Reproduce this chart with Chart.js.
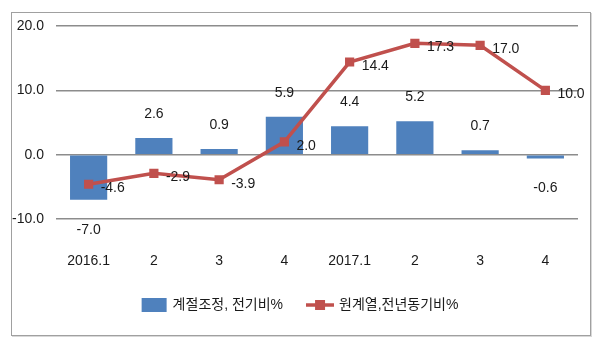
<!DOCTYPE html>
<html>
<head>
<meta charset="utf-8">
<script src="https://cdn.jsdelivr.net/npm/chart.js@4"></script>
<style>
  body { margin: 0; background: #fff; }
  #wrap { position: relative; width: 600px; height: 349px; }
  #frame { position: absolute; left: 11px; top: 12px; width: 578px; height: 322px; border: 1px solid #a0a0a0; box-shadow: 1px 1px 0 #d8d8d8; }
  #myChart { position: absolute; left: 0; top: 0; }
</style>
</head>
<body>
<div id="wrap">
  <div id="frame"></div>
  <canvas id="myChart" width="600" height="349"></canvas>
</div>
<script>
const quarters = ['2016.1', '2', '3', '4', '2017.1', '2', '3', '4'];
const seasonal = [-7.0, 2.6, 0.9, 5.9, 4.4, 5.2, 0.7, -0.6];   // 계절조정, 전기비%
const yearOnYear = [-4.6, -2.9, -3.9, 2.0, 14.4, 17.3, 17.0, 10.0]; // 원계열,전년동기비%
const yTicks = [-10, 0, 10, 20];

const barColor = '#4f81bd';
const lineColor = '#c0504d';
const textColor = '#1a1a1a';
const numFont = "'Liberation Sans', 'Noto Sans CJK KR', sans-serif";

// small canvases used as legend symbols
function legendIcon(kind) {
  const c = document.createElement('canvas');
  c.width = 28;
  c.height = 14;
  const g = c.getContext('2d');
  if (kind === 'bar') {
    g.fillStyle = barColor;
    g.fillRect(2, 0, 25, 14);
  } else {
    g.strokeStyle = lineColor;
    g.lineWidth = 3.5;
    g.beginPath();
    g.moveTo(0, 7);
    g.lineTo(28, 7);
    g.stroke();
    g.fillStyle = lineColor;
    g.fillRect(9, 2, 10, 10);
  }
  return c;
}

// value labels next to bars and points
const valueLabels = {
  id: 'valueLabels',
  afterDatasetsDraw(chart) {
    const ctx = chart.ctx;
    ctx.save();
    ctx.font = '14px ' + numFont;
    ctx.fillStyle = textColor;
    ctx.textBaseline = 'middle';

    const bars = chart.getDatasetMeta(0).data;
    ctx.textAlign = 'center';
    bars.forEach((el, i) => {
      const v = seasonal[i];
      const y = v >= 0 ? el.y - 24 : el.y + 30;
      ctx.fillText(v.toFixed(1), el.x, y);
    });

    const pts = chart.getDatasetMeta(1).data;
    ctx.textAlign = 'left';
    pts.forEach((el, i) => {
      ctx.fillText(yearOnYear[i].toFixed(1), el.x + 12, el.y + 4);
    });
    ctx.restore();
  }
};

// centre the legend on the page rather than on the padded box
const centerLegend = {
  id: 'centerLegend',
  beforeDraw(chart) {
    chart.legend.left = 22;
    chart.legend.right = 578;
  }
};

var ctx = document.getElementById('myChart');

var myChart = new Chart(ctx, {
  data: {
    labels: quarters,
    datasets: [
      {
        type: 'bar',
        label: '계절조정, 전기비%',
        data: seasonal,
        backgroundColor: barColor,
        categoryPercentage: 1,
        barPercentage: 0.57,
        order: 2
      },
      {
        type: 'line',
        label: '원계열,전년동기비%',
        data: yearOnYear,
        borderColor: lineColor,
        borderWidth: 3.5,
        pointStyle: 'rect',
        pointRadius: 6.5,
        pointBackgroundColor: lineColor,
        pointBorderWidth: 0,
        tension: 0,
        order: 1
      }
    ]
  },
  options: {
    responsive: false,
    animation: false,
    layout: { padding: { top: 26, right: 22, bottom: 27, left: 0 } },
    plugins: {
      tooltip: { enabled: false },
      legend: {
        position: 'bottom',
        labels: {
          usePointStyle: true,
          pointStyleWidth: 24,
          padding: 25,
          color: textColor,
          font: { family: numFont, size: 14 },
          generateLabels(chart) {
            return chart.data.datasets.map((ds, i) => ({
              text: ds.label,
              pointStyle: legendIcon(i === 0 ? 'bar' : 'line'),
              fillStyle: i === 0 ? barColor : lineColor,
              strokeStyle: 'transparent',
              lineWidth: 0,
              hidden: false,
              datasetIndex: i,
              fontColor: textColor
            }));
          }
        }
      }
    },
    scales: {
      x: {
        grid: { display: false },
        border: { display: false },
        ticks: {
          color: textColor,
          font: { family: numFont, size: 14 },
          padding: 26,
          maxRotation: 0
        },
        afterFit(scale) { scale.height = 54; }
      },
      y: {
        min: -10,
        max: 20,
        afterBuildTicks(scale) { scale.ticks = yTicks.map(v => ({ value: v })); },
        grid: { color: '#8c8c8c', lineWidth: 1.5, drawTicks: false },
        border: { display: false },
        ticks: {
          color: textColor,
          font: { family: numFont, size: 14 },
          padding: 12,
          callback: v => v.toFixed(1)
        },
        afterFit(scale) { scale.width = 56; }
      }
    }
  },
  plugins: [valueLabels, centerLegend]
});
</script>
</body>
</html>
